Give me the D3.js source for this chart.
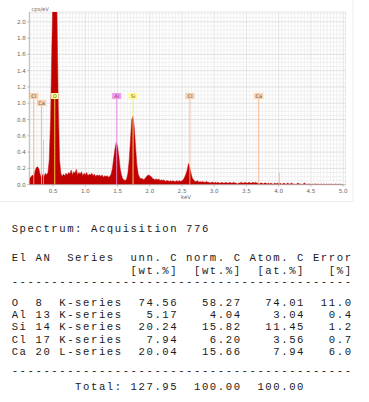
<!DOCTYPE html>
<html lang="en">
<head>
<meta charset="UTF-8">
<title>EDS spectrum - Acquisition 776</title>
<style>
  body { margin: 0; background: #fff; }
  svg { display: block; font-family: "DejaVu Sans", sans-serif; }
  .tbl text { font-family: "Liberation Mono", monospace; font-size: 10.6px; letter-spacing: 1.57px; fill: #1a1a1a; white-space: pre; }
</style>
</head>
<body>
<svg width="369" height="402"></svg>
<script src="https://d3js.org/d3.v7.min.js"></script>
<script>
// spectrum: counts per channel, channels start at 0.12 keV, 0.02 keV apart
const specStart = 0.12, specStep = 0.02;
const counts = [
  0.04,0.08,0.10,0.12,0.10,0.17,0.21,0.22,0.19,0.12,
  0.08,0.13,0.10,0.14,0.12,0.15,0.31,0.80,1.70,2.50,
  2.50,2.45,2.10,0.95,0.30,0.14,0.10,0.13,0.11,0.14,
  0.12,0.15,0.13,0.18,0.12,0.16,0.14,0.19,0.12,0.15,
  0.13,0.16,0.11,0.14,0.12,0.15,0.11,0.13,0.12,0.14,
  0.11,0.13,0.10,0.12,0.11,0.12,0.10,0.12,0.09,0.11,
  0.10,0.11,0.09,0.10,0.13,0.20,0.33,0.44,0.52,0.47,
  0.35,0.20,0.12,0.07,0.06,0.05,0.07,0.14,0.30,0.55,
  0.80,0.84,0.70,0.45,0.24,0.13,0.09,0.07,0.08,0.06,
  0.07,0.09,0.11,0.12,0.11,0.10,0.08,0.07,0.06,0.07,
  0.06,0.07,0.05,0.06,0.05,0.06,0.04,0.05,0.05,0.04,
  0.05,0.04,0.05,0.04,0.04,0.05,0.04,0.05,0.04,0.05,
  0.06,0.09,0.13,0.18,0.26,0.21,0.14,0.08,0.06,0.04,
  0.04,0.05,0.03,0.04,0.03,0.04,0.03,0.03,0.04,0.03,
  0.03,0.02,0.03,0.03,0.02,0.03,0.02,0.03,0.02,0.02,
  0.03,0.02,0.02,0.03,0.02,0.02,0.03,0.02,0.02,0.03,
  0.02,0.02,0.01,0.02,0.02,0.03,0.02,0.02,0.03,0.02,
  0.02,0.03,0.02,0.02,0.03,0.02,0.03,0.02,0.02,0.01,
  0.02,0.02,0.01,0.02,0.02,0.01,0.02,0.01,0.02,0.01,
  0.01,0.02,0.01,0.02,0.01,0.02,0.01,0.01,0.02,0.01,
  0.01,0.02,0.01,0.01,0.02,0.01,0.01,0.00,0.01,0.02,
  0.01,0.01,0.00,0.01,0.02,0.01,0.00,0.01,0.01,0.00,
  0.01,0.00,0.01,0.01,0.00,0.01,0.00,0.01,0.00,0.01,
  0.00,0.01,0.00,0.01,0.00,0.01,0.00,0.00,0.01,0.00,
  0.01,0.00,0.01,0.00,0.00
];

// element markers
const markerNames = ["Cl", "Ca", "O", "Al", "Si", "Cl", "Ca"];
const markerKeV   = [0.20, 0.32, 0.525, 1.486, 1.74, 2.622, 3.69];
const markerRow   = [0, 1, 0, 0, 0, 0, 0];
// extra unlabelled lines (keV, height in cps/eV)
const minorKeV    = [0.35, 4.01];
const minorHeight = [0.55, 0.15];

const xTicks = [0.5, 1.0, 1.5, 2.0, 2.5, 3.0, 3.5, 4.0, 4.5, 5.0];
const yTicks = [0.0, 0.2, 0.4, 0.6, 0.8, 1.0, 1.2, 1.4, 1.6, 1.8, 2.0];

// quantification table
const elements = ["O", "Al", "Si", "Cl", "Ca"];
const atomicNo = [8, 13, 14, 17, 20];
const series   = ["K-series", "K-series", "K-series", "K-series", "L-series"];
const unnC     = [74.56, 5.17, 20.24, 7.94, 20.04];
const normC    = [58.27, 4.04, 15.82, 6.20, 15.66];
const atomC    = [74.01, 3.04, 11.45, 3.56, 7.94];
const errPct   = [11.0, 0.4, 1.2, 0.7, 6.0];
const totals   = [127.95, 100.00, 100.00];

const svg = d3.select("svg");
const L = 29.3, R = 345.7, T = 12, B = 184.7;

const x = d3.scaleLinear().domain([0.13, 5.04]).range([L, R]);
const y = d3.scaleLinear().domain([0, 2.12]).range([B, T]);

// frame of the embedded picture
svg.append("path").attr("d", `M353,0V201.5H0`).attr("fill", "none").attr("stroke", "#ececec");

// grid
const grid = svg.append("g");
const gx = d3.range(0.15, 5.04, 0.05);
const gy = d3.range(0.05, 2.12, 0.05);
grid.selectAll("line.vx").data(gx).join("line")
  .attr("x1", d => x(d)).attr("x2", d => x(d)).attr("y1", T).attr("y2", B)
  .attr("stroke", d => Math.abs(d * 2 - Math.round(d * 2)) < 1e-6 ? "#d6d6d6" : "#ebebeb")
  .attr("stroke-width", 0.7);
grid.selectAll("line.hy").data(gy).join("line")
  .attr("x1", L).attr("x2", R).attr("y1", d => y(d)).attr("y2", d => y(d))
  .attr("stroke", d => Math.abs(d * 5 - Math.round(d * 5)) < 1e-6 ? "#d6d6d6" : "#ebebeb")
  .attr("stroke-width", 0.7);
svg.append("rect").attr("x", L).attr("y", T).attr("width", R - L).attr("height", B - T)
  .attr("fill", "none").attr("stroke", "#dcdcdc").attr("stroke-width", 0.7);

// spectrum
svg.append("clipPath").attr("id", "plotclip").append("rect")
  .attr("x", L).attr("y", T).attr("width", R - L).attr("height", B - T);
const area = d3.area()
  .x((d, i) => x(specStart + i * specStep))
  .y0(B).y1(d => y(d));
svg.append("path").datum(counts)
  .attr("clip-path", "url(#plotclip)")
  .attr("d", area)
  .attr("fill", "#c10000").attr("stroke", "#c41212").attr("stroke-width", 0.5);

// element markers
const markerFill = { Cl: "#fbd0aa", Ca: "#fbd0aa", O: "#ffff90", Si: "#ffff90", Al: "#f49af4" };
const markerLine = { Cl: "#f3b488", Ca: "#f3b488", O: "#e6e64a", Si: "#eded70", Al: "#e68ae6" };
const rowY = [96, 103];

svg.append("g").selectAll("line").data(minorKeV).join("line")
  .attr("x1", d => x(d)).attr("x2", d => x(d))
  .attr("y1", (d, i) => y(minorHeight[i])).attr("y2", B)
  .attr("stroke", "#f3b488").attr("stroke-width", 0.8);

const mk = svg.append("g").selectAll("g").data(markerNames).join("g");
mk.append("line")
  .attr("x1", (d, i) => x(markerKeV[i])).attr("x2", (d, i) => x(markerKeV[i]))
  .attr("y1", (d, i) => rowY[markerRow[i]] + 3).attr("y2", B)
  .attr("stroke", d => markerLine[d]).attr("stroke-width", 0.9);
mk.append("rect")
  .attr("x", (d, i) => x(markerKeV[i]) - (d.length > 1 ? 4.6 : 3.6))
  .attr("y", (d, i) => rowY[markerRow[i]] - 3)
  .attr("width", d => d.length > 1 ? 9.2 : 7.2).attr("height", 6)
  .attr("fill", d => markerFill[d]);
mk.append("text")
  .attr("x", (d, i) => x(markerKeV[i])).attr("y", (d, i) => rowY[markerRow[i]] + 1.8)
  .attr("text-anchor", "middle").attr("font-size", 5).attr("fill", "#555")
  .text(d => d);

// axes
const axisG = svg.append("g").attr("fill", "#666").attr("font-size", 5.6);
svg.append("line").attr("x1", L).attr("x2", L).attr("y1", T).attr("y2", B).attr("stroke", "#b0b0b0").attr("stroke-width", 0.8);
svg.append("line").attr("x1", L).attr("x2", R).attr("y1", B).attr("y2", B).attr("stroke", "#b0b0b0").attr("stroke-width", 0.8);
axisG.selectAll("text.yl").data(yTicks).join("text")
  .attr("x", L - 3.5).attr("y", d => y(d) + 2)
  .attr("text-anchor", "end").text(d => d.toFixed(1));
svg.append("g").selectAll("line").data(yTicks).join("line")
  .attr("x1", L - 2).attr("x2", L).attr("y1", d => y(d)).attr("y2", d => y(d))
  .attr("stroke", "#999").attr("stroke-width", 0.6);
axisG.selectAll("text.xl").data(xTicks).join("text")
  .attr("x", d => x(d)).attr("y", B + 8.5)
  .attr("text-anchor", "middle").text(d => d.toFixed(1));
svg.append("g").selectAll("line").data(xTicks).join("line")
  .attr("x1", d => x(d)).attr("x2", d => x(d)).attr("y1", B).attr("y2", B + 2)
  .attr("stroke", "#999").attr("stroke-width", 0.6);
svg.append("text").attr("x", 186).attr("y", 198.6).attr("text-anchor", "middle")
  .attr("font-size", 5.4).attr("fill", "#666").text("keV");
svg.append("text").attr("x", 31.5).attr("y", 10.5)
  .attr("font-size", 5.2).attr("fill", "#666").text("cps/eV");

// quantification table
const tbl = svg.append("g").attr("class", "tbl");
const tx = 11.7;
const lines = [];
lines.push({ y: 232.0, s: "Spectrum: Acquisition 776" });
lines.push({ y: 261.0, s: "El AN  Series  unn. C norm. C Atom. C Error" });
lines.push({ y: 274.0, s: " ".repeat(15) + "[wt.%]" + "  [wt.%]" + "  [at.%]" + "   [%]" });
lines.push({ y: 285.2, s: "-".repeat(43) });
const rowYs = [306.0, 318.1, 330.4, 342.6, 354.7];
elements.forEach((el, i) => {
  lines.push({
    y: rowYs[i],
    s: el.padEnd(2) + " " + String(atomicNo[i]).padEnd(2) + " " + series[i] +
       unnC[i].toFixed(2).padStart(7) + normC[i].toFixed(2).padStart(8) +
       atomC[i].toFixed(2).padStart(8) + errPct[i].toFixed(1).padStart(6)
  });
});
lines.push({ y: 374.2, s: "-".repeat(43) });
lines.push({
  y: 390.4,
  s: " ".repeat(8) + "Total:" + totals[0].toFixed(2).padStart(7) +
     totals[1].toFixed(2).padStart(8) + totals[2].toFixed(2).padStart(8)
});
tbl.selectAll("text").data(lines).join("text")
  .attr("x", tx).attr("y", d => d.y)
  .attr("xml:space", "preserve")
  .text(d => d.s);
</script>
</body>
</html>
